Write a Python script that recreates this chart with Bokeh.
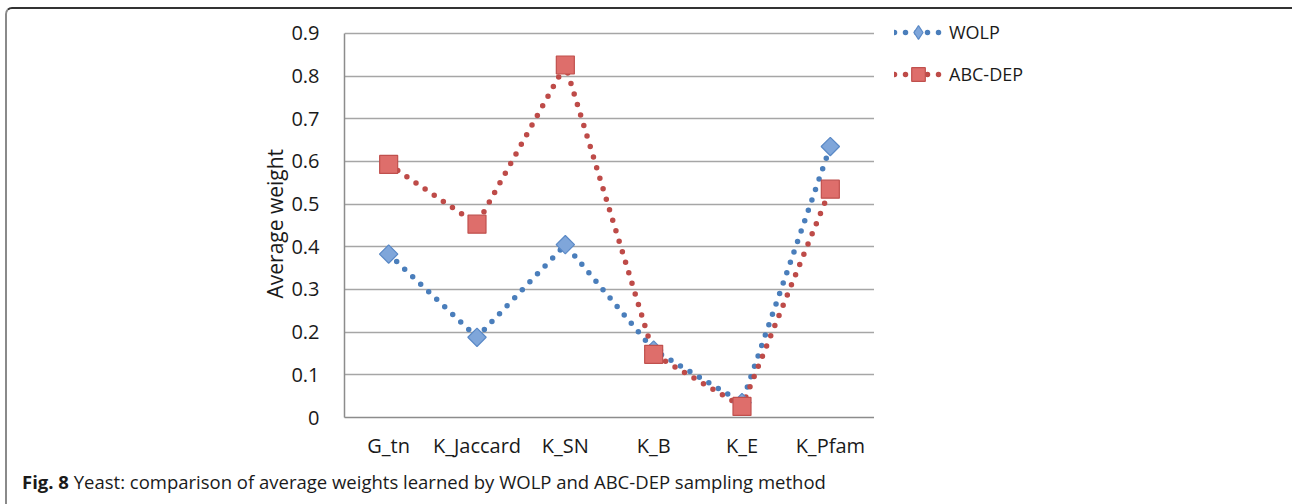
from bokeh.plotting import figure
from bokeh.layouts import column, row
from bokeh.models import (FactorRange, Range1d, FixedTicker, Legend, LegendItem, Div,
                          Title)
from bokeh.embed import file_html
from bokeh.resources import INLINE

categories = ["G_tn", "K_Jaccard", "K_SN", "K_B", "K_E", "K_Pfam"]
wolp = [0.383, 0.188, 0.405, 0.158, 0.035, 0.635]
abc_dep = [0.593, 0.453, 0.826, 0.148, 0.026, 0.535]
y_ticks = [0, 0.1, 0.2, 0.3, 0.4, 0.5, 0.6, 0.7, 0.8, 0.9]
series_names = ["WOLP", "ABC-DEP"]
y_title = "Average weight"
caption_bold = "Fig. 8"
caption_text = "Yeast: comparison of average weights learned by WOLP and ABC-DEP sampling method"

FONT = "Open Sans"
TXT = "#1a1a1a"
Y_TOP = 0.942   # frame extends a little above the 0.9 gridline (room for the key)

blue = "#4a7ebb"
red = "#be4b48"
dia_fill, dia_line = "#7fa6da", "#5a89c6"
sq_fill, sq_line = "#de6e6b", "#c0504d"

# ---------------- main chart ----------------
p = figure(width=867, height=460, x_range=FactorRange(factors=categories),
           y_range=Range1d(0, Y_TOP), output_backend="svg", toolbar_location=None,
           min_border_left=337, min_border_right=0, min_border_top=6,
           min_border_bottom=52)
p.outline_line_color = None
p.background_fill_color = "white"
p.border_fill_color = "white"

p.yaxis.ticker = FixedTicker(ticks=y_ticks)
p.yaxis.bounds = (0, 0.9)
p.yaxis.major_label_overrides = {0: "0"}
for ax in (p.xaxis[0], p.yaxis[0]):
    ax.major_tick_line_color = None
    ax.minor_tick_line_color = None
    ax.axis_line_color = "#8c8c8c"
    ax.axis_line_width = 1.5
    ax.major_label_text_font = FONT
    ax.major_label_text_font_size = "20px"
    ax.major_label_text_color = TXT
p.xaxis.major_label_standoff = 8
p.yaxis.major_label_standoff = 19
p.xgrid.grid_line_color = None
p.ygrid.grid_line_color = "#a6a6a6"
p.ygrid.grid_line_width = 1.5
p.ygrid.bounds = (0, 0.9)

# y-axis title, placed along the 0..0.9 span
p.add_layout(Title(text=y_title, align="left", offset=119, standoff=0,
                   text_font=FONT, text_font_size="21px",
                   text_font_style="normal", text_color=TXT), "left")

p.line(categories, wolp, line_color=blue, line_width=5.5, line_dash="0 11",
       line_cap="round")
p.line(categories, abc_dep, line_color=red, line_width=5.5, line_dash="0 11",
       line_cap="round")
p.scatter(categories, wolp, marker="square", angle=0.7853981634, size=13,
          fill_color=dia_fill, line_color=dia_line, line_width=1.2)
p.scatter(categories, abc_dep, marker="square", size=18,
          fill_color=sq_fill, line_color=sq_line, line_width=1.2)

# ---------------- key (legend) panel ----------------
lf = figure(width=415, height=460, x_range=FactorRange(factors=categories),
            y_range=Range1d(0, Y_TOP), output_backend="svg", toolbar_location=None,
            x_axis_location=None, y_axis_location=None,
            min_border_left=20, min_border_right=0, min_border_top=6,
            min_border_bottom=52)
lf.outline_line_color = None
lf.grid.visible = False
lf.border_fill_color = "white"
k1l = lf.line(categories, wolp, line_color=blue, line_width=5.5, line_dash="0 11",
              line_cap="round", visible=False)
k1m = lf.scatter(categories, wolp, marker="diamond", size=18, fill_color=dia_fill,
                 line_color=dia_line, line_width=1.2, visible=False)
k2l = lf.line(categories, abc_dep, line_color=red, line_width=5.5, line_dash="0 11",
              line_cap="round", visible=False)
k2m = lf.scatter(categories, abc_dep, marker="square", size=18, fill_color=sq_fill,
                 line_color=sq_line, line_width=1.2, visible=False)

legend = Legend(items=[LegendItem(label=series_names[0], renderers=[k1l, k1m]),
                       LegendItem(label=series_names[1], renderers=[k2l, k2m])],
                location="top_left", orientation="vertical",
                glyph_width=48, glyph_height=34, spacing=8, padding=0, margin=0,
                label_standoff=7, label_text_font=FONT, label_text_font_size="18px",
                label_text_color=TXT, label_height=20,
                border_line_color=None, background_fill_alpha=0)
lf.add_layout(legend)

caption = Div(text="<b>" + caption_bold + "</b> " + caption_text,
              width=1282, height=45,
              styles={"font-family": "Open Sans", "font-size": "18.5px",
                      "color": TXT, "padding-left": "10px", "padding-top": "2px",
                      "line-height": "11px", "background-color": "white",
                      "box-sizing": "border-box"})

layout = column(row(p, lf, spacing=0), caption, spacing=0, styles={
    "margin-left": "5px", "margin-top": "7px",
    "border-style": "solid", "border-width": "2px",
    "border-color": "#333333 #8a8a8a #8a8a8a #8a8a8a",
    "border-radius": "7px", "overflow": "hidden"})

open("out.html", "w").write(file_html(layout, INLINE))
